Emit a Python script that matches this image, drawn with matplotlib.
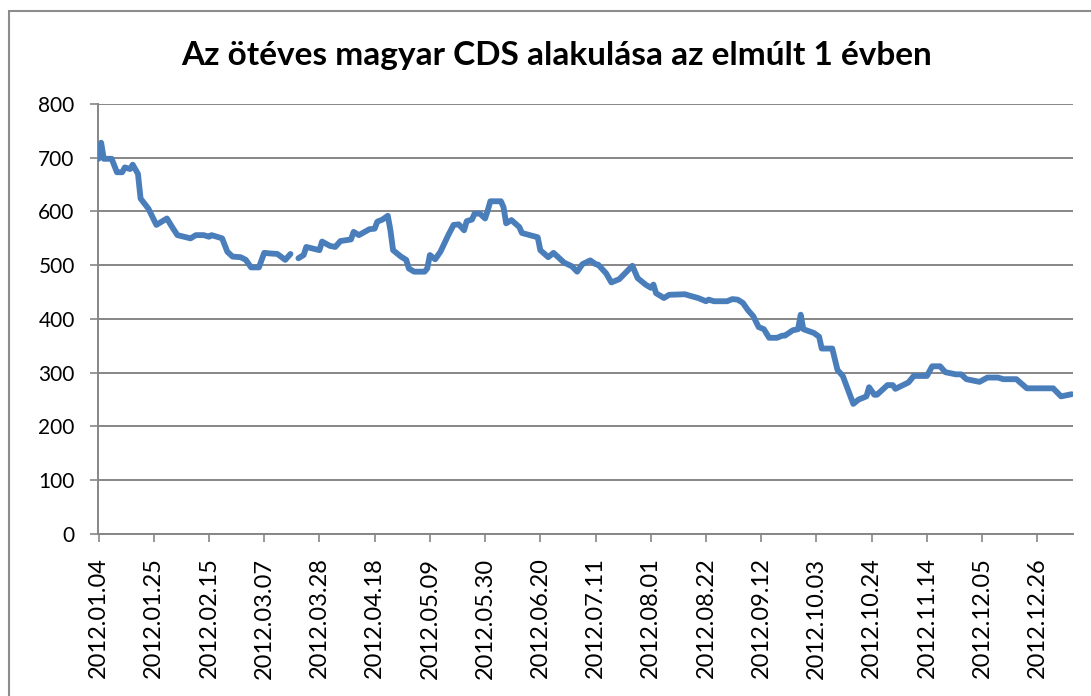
import numpy as np
import pandas as pd
import matplotlib
matplotlib.use("Agg")
import matplotlib.pyplot as plt
from matplotlib.patches import Rectangle

# Ötéves magyar CDS (bázispont)
dates = [
    "2012.01.04", "2012.01.05", "2012.01.06", "2012.01.09", "2012.01.11", "2012.01.13",
    "2012.01.14", "2012.01.16", "2012.01.17", "2012.01.19", "2012.01.20", "2012.01.23",
    "2012.01.26", "2012.01.30", "2012.02.01", "2012.02.03", "2012.02.08", "2012.02.10",
    "2012.02.13", "2012.02.15", "2012.02.16", "2012.02.20", "2012.02.22", "2012.02.24",
    "2012.02.27", "2012.02.29", "2012.03.02", "2012.03.05", "2012.03.07", "2012.03.09",
    "2012.03.12", "2012.03.15", "2012.03.17", "2012.03.18", "2012.03.20", "2012.03.22",
    "2012.03.23", "2012.03.28", "2012.03.29", "2012.04.01", "2012.04.03", "2012.04.05",
    "2012.04.09", "2012.04.10", "2012.04.12", "2012.04.16", "2012.04.18", "2012.04.19",
    "2012.04.21", "2012.04.23", "2012.04.24", "2012.04.25", "2012.04.28", "2012.04.30",
    "2012.05.01", "2012.05.03", "2012.05.07", "2012.05.08", "2012.05.09", "2012.05.11",
    "2012.05.13", "2012.05.16", "2012.05.18", "2012.05.20", "2012.05.22", "2012.05.23",
    "2012.05.25", "2012.05.26", "2012.05.28", "2012.05.30", "2012.05.31", "2012.06.01",
    "2012.06.05", "2012.06.06", "2012.06.07", "2012.06.09", "2012.06.12", "2012.06.13",
    "2012.06.16", "2012.06.19", "2012.06.20", "2012.06.23", "2012.06.25", "2012.06.29",
    "2012.07.02", "2012.07.04", "2012.07.06", "2012.07.09", "2012.07.11", "2012.07.12",
    "2012.07.15", "2012.07.17", "2012.07.20", "2012.07.25", "2012.07.27", "2012.07.30",
    "2012.08.01", "2012.08.02", "2012.08.03", "2012.08.06", "2012.08.08", "2012.08.14",
    "2012.08.16", "2012.08.19", "2012.08.22", "2012.08.23", "2012.08.25", "2012.08.30",
    "2012.09.01", "2012.09.03", "2012.09.05", "2012.09.07", "2012.09.09", "2012.09.11",
    "2012.09.13", "2012.09.15", "2012.09.18", "2012.09.20", "2012.09.21", "2012.09.24",
    "2012.09.26", "2012.09.27", "2012.09.28", "2012.10.02", "2012.10.04", "2012.10.05",
    "2012.10.09", "2012.10.11", "2012.10.13", "2012.10.17", "2012.10.19", "2012.10.22",
    "2012.10.23", "2012.10.25", "2012.10.26", "2012.10.30", "2012.11.01", "2012.11.02",
    "2012.11.07", "2012.11.09", "2012.11.14", "2012.11.16", "2012.11.19", "2012.11.21",
    "2012.11.25", "2012.11.27", "2012.11.29", "2012.12.04", "2012.12.07", "2012.12.11",
    "2012.12.13", "2012.12.18", "2012.12.22", "2013.01.01", "2013.01.04", "2013.01.08",
]
cds = [
    698, 728, 698, 698, 673, 673,
    682, 679, 687, 670, 624, 605,
    575, 587, 571, 556, 550, 556,
    556, 553, 556, 550, 525, 516,
    515, 510, 496, 496, 523, 522,
    521, 510, 521, np.nan, 513, 519,
    534, 528, 544, 536, 534, 545,
    548, 562, 556, 567, 568, 581,
    585, 592, 565, 528, 516, 510,
    494, 488, 488, 494, 519, 511,
    525, 556, 575, 576, 565, 582,
    585, 596, 596, 587, 602, 619,
    619, 608, 578, 584, 571, 560,
    556, 552, 528, 515, 523, 505,
    498, 488, 502, 509, 502, 501,
    485, 468, 474, 499, 476, 464,
    458, 464, 448, 439, 445, 446,
    443, 439, 433, 436, 433, 433,
    437, 436, 430, 416, 405, 385,
    381, 365, 365, 369, 369, 379,
    381, 408, 381, 374, 367, 345,
    345, 305, 294, 242, 250, 256,
    273, 259, 259, 277, 277, 270,
    282, 294, 294, 312, 312, 301,
    297, 297, 288, 283, 291, 291,
    288, 288, 271, 271, 256, 260,
]
tick_dates = [
    "2012.01.04", "2012.01.25", "2012.02.15", "2012.03.07", "2012.03.28", "2012.04.18",
    "2012.05.09", "2012.05.30", "2012.06.20", "2012.07.11", "2012.08.01", "2012.08.22",
    "2012.09.12", "2012.10.03", "2012.10.24", "2012.11.14", "2012.12.05", "2012.12.26",
]
y_ticks = [0, 100, 200, 300, 400, 500, 600, 700, 800]

x = pd.to_datetime(dates, format="%Y.%m.%d")
xt = pd.to_datetime(tick_dates, format="%Y.%m.%d")

plt.rcParams['font.family'] = ['Lato', 'DejaVu Sans']
grey = '#868686'

fig = plt.figure(figsize=(10.91, 6.96), dpi=100)
ax = fig.add_axes([0.0901, 0.2328, 0.8931, 0.6178])

# keret a diagram körül
fig.patches.append(Rectangle((8.5 / 1091, -0.1), 1.2, 1 - 10.5 / 696 + 0.1,
                             transform=fig.transFigure, fill=False,
                             edgecolor='#8c8c8c', linewidth=1.5))

ax.plot(x, cds, color='#4a7ebb', linewidth=4.2, solid_joinstyle='round',
        solid_capstyle='round', zorder=3)

ax.set_ylim(0, 800)
ax.set_yticks(y_ticks)
ax.set_xlim(x[0] - pd.Timedelta(hours=2), x[-1] + pd.Timedelta(hours=10))
ax.set_xticks(xt)
ax.set_xticklabels(tick_dates, rotation=90)
ax.yaxis.grid(True, color=grey, linewidth=1.4)
ax.set_axisbelow(True)

for s in ['top', 'right']:
    ax.spines[s].set_visible(False)
for s in ['left', 'bottom']:
    ax.spines[s].set_color(grey)
    ax.spines[s].set_linewidth(1.4)
ax.tick_params(axis='both', direction='out', length=6, width=1.2, color=grey,
               labelcolor='black')
ax.tick_params(axis='y', pad=11, labelsize=15)
ax.tick_params(axis='x', pad=11, labelsize=17)

fig.text(0.51, 0.92, "Az ötéves magyar CDS alakulása az elmúlt 1 évben",
         ha='center', va='center', fontsize=24, fontweight='bold')

fig.savefig("out.png", dpi=100)
